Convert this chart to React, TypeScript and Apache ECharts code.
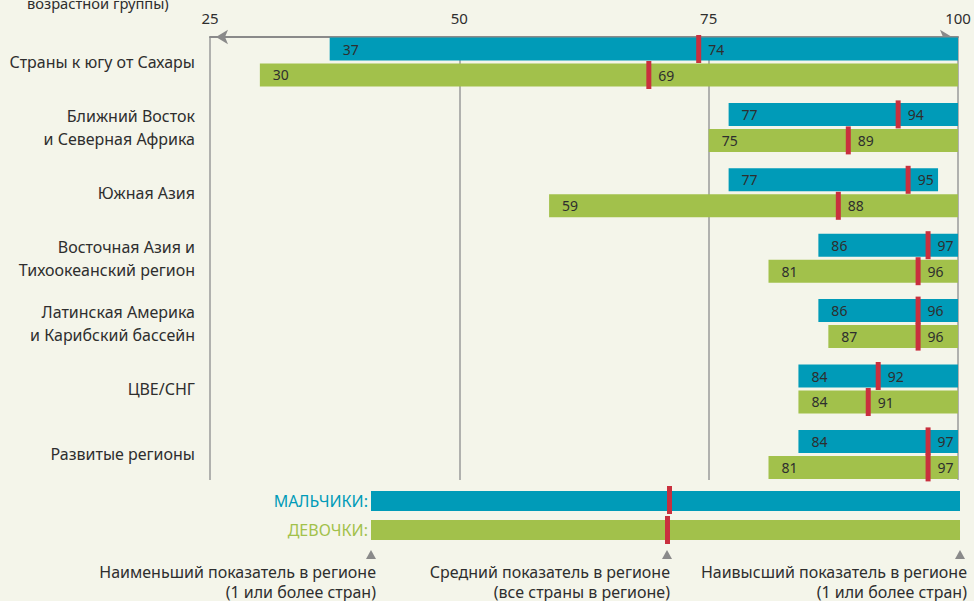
import React, { useEffect, useRef } from "react";
import * as echarts from "echarts";

const categories = [
  "Страны к югу от Сахары",
  "Ближний Восток\nи Северная Африка",
  "Южная Азия",
  "Восточная Азия и\nТихоокеанский регион",
  "Латинская Америка\nи Карибский бассейн",
  "ЦВЕ/СНГ",
  "Развитые регионы",
];
const boysMin = [37, 77, 77, 86, 86, 84, 84];
const boysMean = [74, 94, 95, 97, 96, 92, 97];
const boysMax = [100, 100, 98, 100, 100, 100, 100];
const girlsMin = [30, 75, 59, 81, 87, 84, 81];
const girlsMean = [69, 89, 88, 96, 96, 91, 97];
const girlsMax = [100, 100, 100, 100, 100, 100, 100];
const axisTicks = [25, 50, 75, 100];

const BLUE = "#009bb8";
const GREEN = "#a2c14b";
const RED = "#c9303e";
const BG = "#f4f5ea";
const TEXT = "#2e2e2e";
const FONT = "'Noto Sans', 'Open Sans', sans-serif";
const NARROW = "'Liberation Sans Narrow', 'Noto Sans', sans-serif";

export default function App() {
  const ref = useRef<HTMLDivElement>(null);
  useEffect(() => {
    if (!ref.current) return;
    const chart = echarts.init(ref.current, undefined, { renderer: "svg" });
    const GRID_LEFT = 210;
    const GRID_RIGHT = 16;
    const barW = 23;
    const labelStyle = { color: TEXT, fontSize: 14, fontFamily: FONT };

    const rangeSeries = (
      name: string,
      stack: string,
      mins: number[],
      maxs: number[],
      color: string
    ) => [
      {
        type: "bar",
        name: name + "base",
        stack,
        xAxisIndex: 0,
        yAxisIndex: 0,
        data: mins,
        barWidth: barW,
        barGap: "13%",
        itemStyle: { color: "transparent" },
        silent: true,
      },
      {
        type: "bar",
        name,
        stack,
        xAxisIndex: 0,
        yAxisIndex: 0,
        data: maxs.map((m, i) => m - mins[i]),
        barWidth: barW,
        barGap: "13%",
        itemStyle: { color },
        label: {
          show: true,
          position: "insideLeft",
          distance: 13,
          formatter: (p: any) => String(mins[p.dataIndex]),
          ...labelStyle,
        },
      },
    ];

    const meanSeries = (means: number[], off: number) => ({
      type: "scatter",
      xAxisIndex: 0,
      yAxisIndex: 0,
      data: means.map((m, i) => [m, categories[i]]),
      symbol: "rect",
      symbolSize: [5, 28],
      symbolOffset: [0, off],
      itemStyle: { color: RED, opacity: 1 },
      z: 5,
      label: {
        show: true,
        position: "right",
        distance: 7,
        formatter: (p: any) => String(p.value[0]),
        ...labelStyle,
      },
    });

    const legendBar = (y: number, color: string) => ({
      type: "rect",
      shape: { x: 371, y, width: 589, height: 20 },
      style: { fill: color },
    });
    const tri = (cx: number) => ({
      type: "polygon",
      shape: { points: [[cx - 5, 559], [cx + 5, 559], [cx, 550]] },
      style: { fill: "#8a8a8a" },
    });
    const txt = (
      x: number,
      y: number,
      text: string,
      color = TEXT,
      size = 16,
      font = NARROW,
      align = "right"
    ) => ({
      type: "text",
      x,
      y,
      style: {
        text,
        fill: color,
        fontSize: size,
        fontFamily: font,
        align,
        verticalAlign: "middle",
        lineHeight: 20,
      },
    });

    chart.setOption({
      animation: false,
      backgroundColor: BG,
      grid: [
        { left: GRID_LEFT, right: GRID_RIGHT, top: 29.3, height: 457.8 },
        { left: GRID_LEFT, right: GRID_RIGHT, top: 37, height: 443 },
      ],
      xAxis: [
        {
          type: "value",
          gridIndex: 0,
          min: 25,
          max: 100,
          interval: 25,
          show: false,
        },
        {
          type: "value",
          gridIndex: 1,
          position: "top",
          min: 25,
          max: 100,
          interval: 25,
          axisLine: {
            show: true,
            lineStyle: { color: "#8a8a8a", width: 2 },
            symbol: ["arrow", "arrow"],
            symbolSize: [11, 12],
            symbolOffset: [6, -6],
          },
          axisTick: { show: false },
          axisLabel: {
            color: TEXT,
            fontSize: 15,
            fontFamily: FONT,
            margin: 12,
            formatter: (v: number) => (axisTicks.includes(v) ? String(v) : ""),
          },
          splitLine: { show: true, lineStyle: { color: "#9a9a9a", width: 1.5 } },
        },
      ],
      yAxis: [
        {
          type: "category",
          gridIndex: 0,
          data: categories,
          inverse: true,
          axisLine: { show: false },
          axisTick: { show: false },
          axisLabel: {
            color: TEXT,
            fontSize: 16,
            fontFamily: FONT,
            margin: 15,
            lineHeight: 23,
            align: "right",
          },
        },
        {
          type: "category",
          gridIndex: 1,
          data: categories,
          show: false,
        },
      ],
      series: [
        ...rangeSeries("Мальчики", "b", boysMin, boysMax, BLUE),
        ...rangeSeries("Девочки", "g", girlsMin, girlsMax, GREEN),
        meanSeries(boysMean, -13),
        meanSeries(girlsMean, 13),
      ],
      graphic: [
        txt(27, 3, "возрастной группы)", TEXT, 14.7, FONT, "left"),
        legendBar(491, BLUE),
        legendBar(520, GREEN),
        { type: "rect", shape: { x: 667, y: 486, width: 5, height: 28 }, style: { fill: RED } },
        { type: "rect", shape: { x: 665, y: 516, width: 5, height: 28 }, style: { fill: RED } },
        txt(368, 501, "МАЛЬЧИКИ:", BLUE),
        txt(368, 530, "ДЕВОЧКИ:", GREEN),
        tri(371),
        tri(667),
        tri(960),
        txt(376, 581.5, "Наименьший показатель в регионе\n(1 или более стран)"),
        txt(670, 581.5, "Средний показатель в регионе\n(все страны в регионе)"),
        txt(967, 581.5, "Наивысший показатель в регионе\n(1 или более стран)"),
      ],
    });
    return () => chart.dispose();
  }, []);
  return (
    <div
      ref={ref}
      style={{ position: "fixed", left: 0, top: 0, width: 974, height: 601 }}
    />
  );
}
